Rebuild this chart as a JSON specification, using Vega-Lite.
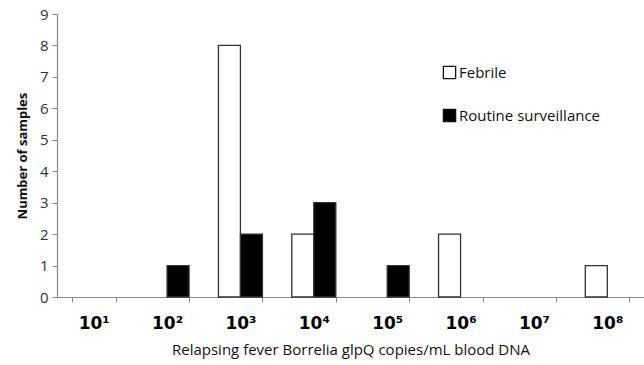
{
  "$schema": "https://vega.github.io/schema/vega-lite/v6.json",
  "width": 587,
  "height": 283,
  "autosize": "none",
  "padding": {"left": 57, "top": 14, "right": 0, "bottom": 68},
  "background": "white",
  "config": {"view": {"stroke": null}},
  "data": {
    "values": [
      {"copies": "10¹", "group": "Febrile", "n": 0},
      {"copies": "10¹", "group": "Routine surveillance", "n": 0},
      {"copies": "10²", "group": "Febrile", "n": 0},
      {"copies": "10²", "group": "Routine surveillance", "n": 1},
      {"copies": "10³", "group": "Febrile", "n": 8},
      {"copies": "10³", "group": "Routine surveillance", "n": 2},
      {"copies": "10⁴", "group": "Febrile", "n": 2},
      {"copies": "10⁴", "group": "Routine surveillance", "n": 3},
      {"copies": "10⁵", "group": "Febrile", "n": 0},
      {"copies": "10⁵", "group": "Routine surveillance", "n": 1},
      {"copies": "10⁶", "group": "Febrile", "n": 2},
      {"copies": "10⁶", "group": "Routine surveillance", "n": 0},
      {"copies": "10⁷", "group": "Febrile", "n": 0},
      {"copies": "10⁷", "group": "Routine surveillance", "n": 0},
      {"copies": "10⁸", "group": "Febrile", "n": 1},
      {"copies": "10⁸", "group": "Routine surveillance", "n": 0}
    ]
  },
  "transform": [{"filter": "datum.n > 0"}],
  "mark": {"type": "bar", "stroke": "#333333", "strokeWidth": 1.3},
  "encoding": {
    "x": {
      "field": "copies",
      "type": "nominal",
      "sort": ["10¹", "10²", "10³", "10⁴", "10⁵", "10⁶", "10⁷", "10⁸"],
      "scale": {"domain": ["10¹", "10²", "10³", "10⁴", "10⁵", "10⁶", "10⁷", "10⁸"], "paddingInner": 0.4, "paddingOuter": 0.2},
      "axis": {
        "title": "Relapsing fever Borrelia glpQ copies/mL blood DNA",
        "titleFont": "Open Sans",
        "titleFontSize": 15,
        "titleFontWeight": "normal",
        "titleColor": "#111111",
        "titlePadding": 11,
        "labelAngle": 0,
        "labelFont": "DejaVu Sans",
        "labelFontSize": 17,
        "labelFontWeight": "bold",
        "labelColor": "#000000",
        "labelPadding": 13,
        "tickBand": "extent",
        "tickSize": 5,
        "tickColor": "#888888",
        "domainColor": "#888888",
        "domainWidth": 1.2,
        "grid": false
      }
    },
    "xOffset": {"field": "group", "type": "nominal", "scale": {"domain": ["Febrile", "Routine surveillance"]}},
    "y": {
      "field": "n",
      "type": "quantitative",
      "scale": {"domain": [0, 9], "nice": false},
      "axis": {
        "title": "Number of samples",
        "titleFont": "Noto Sans",
        "titleFontSize": 13,
        "titleFontWeight": "bold",
        "titleColor": "#111111",
        "titlePadding": 10,
        "values": [0, 1, 2, 3, 4, 5, 6, 7, 8, 9],
        "labelFont": "Open Sans",
        "labelFontSize": 15,
        "labelColor": "#333333",
        "labelPadding": 4,
        "tickSize": 5,
        "tickColor": "#888888",
        "domainColor": "#888888",
        "domainWidth": 1.2,
        "grid": false
      }
    },
    "fill": {
      "field": "group",
      "type": "nominal",
      "scale": {"domain": ["Febrile", "Routine surveillance"], "range": ["#ffffff", "#000000"]},
      "legend": {
        "title": null,
        "orient": "none",
        "legendX": 385,
        "legendY": 51,
        "symbolType": "square",
        "symbolSize": 150,
        "symbolStrokeColor": "#111111",
        "symbolStrokeWidth": 1.3,
        "labelFont": "Open Sans",
        "labelFontSize": 15,
        "labelColor": "#111111",
        "rowPadding": 24,
        "labelOffset": 2
      }
    }
  }
}
